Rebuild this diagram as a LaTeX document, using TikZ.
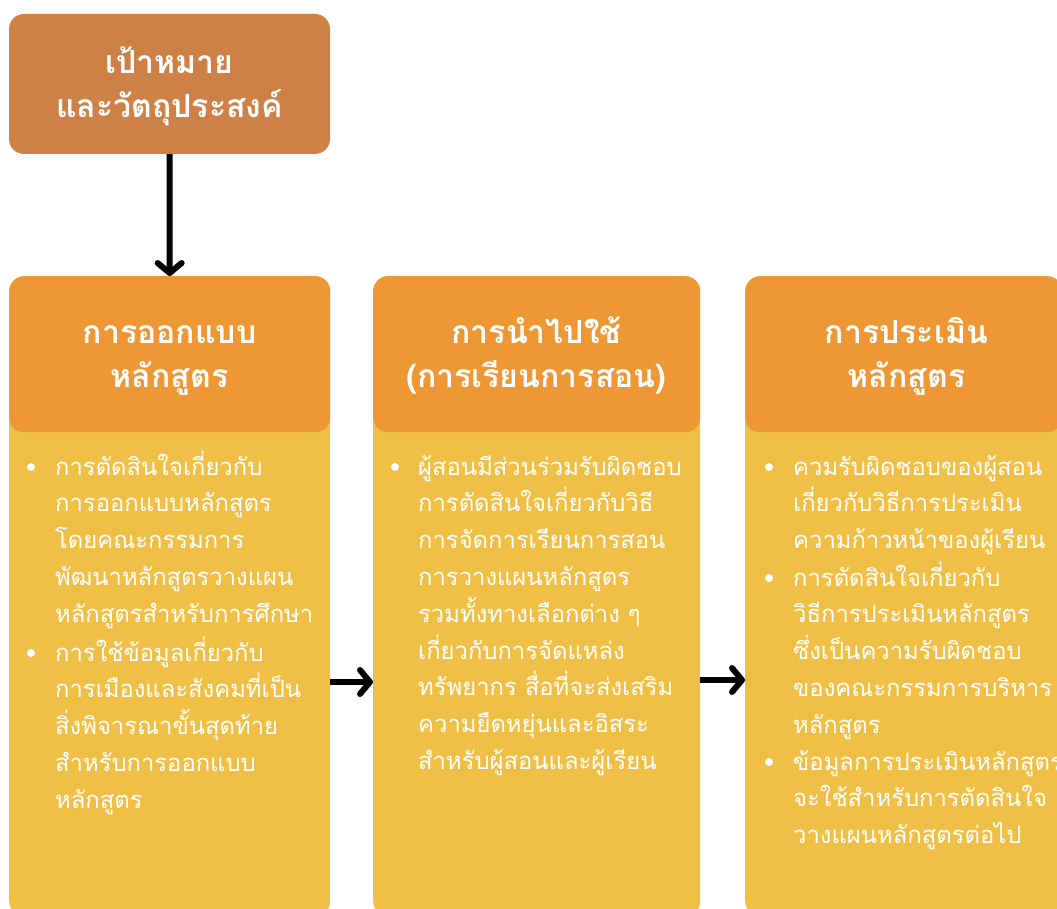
\documentclass[tikz,border=0pt]{standalone}
\usepackage{fontspec}
\usetikzlibrary{arrows.meta}
\newfontfamily\thaifont[Script=Thai]{Loma}
\definecolor{goalbrown}{RGB}{205,129,70}
\definecolor{headorange}{RGB}{237,152,52}
\definecolor{bodyyellow}{RGB}{239,190,69}
\tikzset{
  goalbox/.style={fill=goalbrown, rounded corners=15pt, inner sep=0pt},
  headbox/.style={fill=headorange, rounded corners=15pt, inner sep=0pt},
  bodybox/.style={fill=bodyyellow, rounded corners=15pt, inner sep=0pt},
  headtext/.style={text=white, align=center, inner sep=0pt,
    font={\thaifont\bfseries\fontsize{32}{44}\selectfont\lineskiplimit=-100pt\lineskip=0pt}},
  itemtext/.style={text=white, align=left, anchor=base west, inner sep=0pt,
    font={\thaifont\fontsize{23.8}{36.8}\selectfont\lineskiplimit=-100pt\lineskip=0pt}},
  dot/.style={circle, fill=white, minimum size=8pt, inner sep=0pt},
  flow/.style={line width=6pt, draw=black,
    -{Straight Barb[round, length=10pt, width=24pt]}},
}
\begin{document}
\begin{tikzpicture}[x=1pt, y=-1pt]
\useasboundingbox (0,0) rectangle (1057,909);
\begin{scope}
\clip (0,0) rectangle (1057,909);

% goal box
\node[goalbox, minimum width=321pt, minimum height=140pt] (goal) at (169.5,84) {};
\node[headtext, anchor=base] (goaltxt) at (169.5,118) {เป้าหมาย\\และวัตถุประสงค์};

% column bodies
\node[bodybox, minimum width=321pt, minimum height=640pt, anchor=north west] (b1) at (9,276) {};
\node[bodybox, minimum width=327pt, minimum height=640pt, anchor=north west] (b2) at (373,276) {};
\node[bodybox, minimum width=317pt, minimum height=640pt, anchor=north west] (b3) at (745,276) {};

% column headers
\node[headbox, minimum width=321pt, minimum height=156pt, anchor=north west] (h1) at (9,276) {};
\node[headbox, minimum width=327pt, minimum height=156pt, anchor=north west] (h2) at (373,276) {};
\node[headbox, minimum width=317pt, minimum height=156pt, anchor=north west] (h3) at (745,276) {};
\node[headtext, anchor=base] (h1t) at (169.5,387) {การออกแบบ\\หลักสูตร};
\node[headtext, anchor=base] (h2t) at (536.5,387) {การนำไปใช้\\(การเรียนการสอน)};
\node[headtext, anchor=base] (h3t) at (906.5,387) {การประเมิน\\หลักสูตร};

% column 1 items (anchored at the baseline of the last line)
\node[dot] (d11) at (31,467) {};
\node[itemtext] (t11) at (55,622.2) {การตัดสินใจเกี่ยวกับ\\การออกแบบหลักสูตร\\โดยคณะกรรมการ\\พัฒนาหลักสูตรวางแผน\\หลักสูตรสำหรับการศึกษา};
\node[dot] (d12) at (31,653) {};
\node[itemtext] (t12) at (55,808.2) {การใช้ข้อมูลเกี่ยวกับ\\การเมืองและสังคมที่เป็น\\สิ่งพิจารณาขั้นสุดท้าย\\สำหรับการออกแบบ\\หลักสูตร};

% column 2 item
\node[dot] (d21) at (395,467) {};
\node[itemtext] (t21) at (418,769.4) {ผู้สอนมีส่วนร่วมรับผิดชอบ\\การตัดสินใจเกี่ยวกับวิธี\\การจัดการเรียนการสอน\\การวางแผนหลักสูตร\\รวมทั้งทางเลือกต่าง ๆ\\เกี่ยวกับการจัดแหล่ง\\ทรัพยากร สื่อที่จะส่งเสริม\\ความยืดหยุ่นและอิสระ\\สำหรับผู้สอนและผู้เรียน};

% column 3 items
\node[dot] (d31) at (769,467) {};
\node[itemtext] (t31) at (793,548.6) {ควมรับผิดชอบของผู้สอน\\เกี่ยวกับวิธีการประเมิน\\ความก้าวหน้าของผู้เรียน};
\node[dot] (d32) at (769,578) {};
\node[itemtext] (t32) at (793,733.2) {การตัดสินใจเกี่ยวกับ\\วิธีการประเมินหลักสูตร\\ซึ่งเป็นความรับผิดชอบ\\ของคณะกรรมการบริหาร\\หลักสูตร};
\node[dot] (d33) at (769,762) {};
\node[itemtext] (t33) at (793,843.6) {ข้อมูลการประเมินหลักสูตร\\จะใช้สำหรับการตัดสินใจ\\วางแผนหลักสูตรต่อไป};

% connectors
\draw[flow] (goal.south) -- (h1.north);
\draw[flow] (b1.east |- 0,682) -- (b2.west |- 0,682);
\draw[flow] (b2.east |- 0,680) -- (b3.west |- 0,680);
\end{scope}
\end{tikzpicture}
\end{document}
